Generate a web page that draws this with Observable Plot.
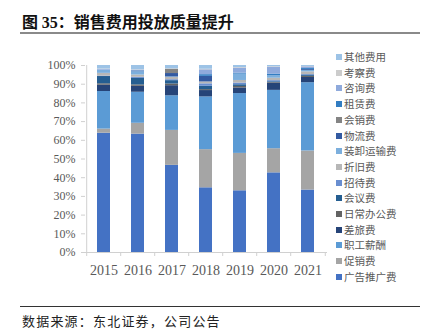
<!DOCTYPE html>
<html>
<head>
<meta charset="utf-8">
<script src="https://cdn.jsdelivr.net/npm/d3@7"></script>
<script src="https://cdn.jsdelivr.net/npm/@observablehq/plot@0.6"></script>
<style>
  html, body { margin: 0; padding: 0; background: #fff; }
  #wrap { position: relative; width: 433px; height: 333px; overflow: hidden; background: #fff; }
  #title { position: absolute; left: 22px; top: 9px; font: bold 16px "Noto Sans CJK SC", sans-serif; color: #111; white-space: nowrap; }
  #title .num { font-family: "Liberation Serif", serif; }
  #topline { position: absolute; left: 20px; top: 32px; width: 400px; height: 2px; background: #8a8a8a; }
  #botline { position: absolute; left: 20px; top: 306px; width: 400px; height: 1px; background: #333; }
  #caption { position: absolute; left: 22px; top: 311px; font: 13px "Noto Sans CJK SC", sans-serif; letter-spacing: 1.2px; color: #222; white-space: nowrap; }
  #chart { position: absolute; left: 0; top: 50px; }
  #legend { position: absolute; left: 336px; top: 50px; }
  .li { position: absolute; left: 0; height: 14px; white-space: nowrap; font: 10.5px "Noto Sans CJK SC", sans-serif; color: #595959; }
  .sw { position: absolute; left: 0; top: 4px; width: 6px; height: 6px; }
  .lt { position: absolute; left: 8px; top: 0; line-height: 14px; }
</style>
</head>
<body>
<div id="wrap">
  <div id="title">图 <span class="num">35</span>：销售费用投放质量提升</div>
  <div id="topline"></div>
  <div id="chart"></div>
  <div id="legend"></div>
  <div id="botline"></div>
  <div id="caption">数据来源：东北证券，公司公告</div>
</div>
<script>
// ---- data (shares in %) ----
const years = ["2015", "2016", "2017", "2018", "2019", "2020", "2021"];
// stacking order, bottom to top
const seriesNames = ["广告推广费","促销费","职工薪酬","差旅费","日常办公费","会议费","招待费","折旧费","装卸运输费","物流费","会销费","租赁费","咨询费","考察费","其他费用"];
const advertising = [63.8, 63.3, 46.6, 34.6, 33.0, 42.6, 33.4];
const promotion   = [2.2, 5.8, 18.7, 20.4, 20.0, 12.9, 20.9];
const staffPay    = [20.1, 16.6, 18.5, 28.2, 32.0, 31.2, 36.5];
const travel      = [3.4, 3.2, 5.4, 3.4, 3.0, 3.9, 2.8];
const office      = [0.7, 0.7, 0.9, 0.5, 0.8, 0.3, 0.6];
const meeting     = [3.9, 3.5, 1.8, 1.8, 0.9, 0.4, 0.7];
const hospitality = [0.2, 0.6, 0.5, 1.3, 0.9, 0.6, 0.3];
const depreciation= [1.5, 1.2, 1.2, 1.0, 1.4, 1.3, 1.4];
const handling    = [1.7, 1.8, 0.3, 0.0, 3.4, 1.3, 0.8];
const logistics   = [0.0, 0.3, 1.8, 3.0, 0.0, 0.0, 0.5];
const salesMeeting= [0.0, 0.0, 2.3, 0.0, 0.0, 0.0, 0.0];
const rent        = [0.0, 0.2, 0.0, 0.9, 0.5, 0.9, 0.5];
const consulting  = [0.4, 0.3, 0.0, 2.6, 2.7, 3.6, 0.9];
const inspection  = [0.2, 0.2, 0.2, 0.3, 0.3, 0.3, 0.2];
const others      = [1.9, 2.3, 1.8, 2.0, 1.1, 0.7, 0.5];
const yTicks = [0, 0.1, 0.2, 0.3, 0.4, 0.5, 0.6, 0.7, 0.8, 0.9, 1.0];

const seriesValues = [advertising, promotion, staffPay, travel, office, meeting, hospitality, depreciation, handling, logistics, salesMeeting, rent, consulting, inspection, others];
const seriesColors = ["#4472C4","#A5A5A5","#5B9BD5","#264478","#636363","#255E91","#698ED0","#B7B7B7","#7CAFDD","#335AA1","#848484","#327DC2","#8FAADC","#CCCCCC","#9DC3E6"];

const rows = [];
seriesNames.forEach((s, i) => years.forEach((yr, j) => rows.push({series: s, year: yr, value: seriesValues[i][j]})));

// ---- chart ----
const W = 335, H = 232, mL = 85, mR = 8, mT = 15, mB = 30;
const step = (W - mL - mR) / years.length;
const axisGray = "#d0d0d0";
const serif = "'Liberation Serif', 'Times New Roman', serif";

const chart = Plot.plot({
  width: W, height: H,
  marginLeft: mL, marginRight: mR, marginTop: mT, marginBottom: mB,
  style: {color: "#595959", background: "transparent", overflow: "visible"},
  x: {domain: years, paddingInner: 0.61, paddingOuter: 0.305, axis: null},
  y: {domain: [0, 1], axis: null},
  color: {domain: seriesNames, range: seriesColors},
  marks: [
    Plot.barY(rows, Plot.stackY({offset: "normalize", x: "year", y: "value", fill: "series"})),
    // axis lines
    Plot.ruleY([0], {stroke: axisGray}),
    Plot.ruleX([years[0]], {y1: 0, y2: 1, dx: -step / 2, stroke: axisGray}),
    // category separator ticks
    Plot.axisX({tickSize: 4, tickFormat: null, dx: -step / 2, stroke: axisGray, label: null}),
    Plot.axisX([years[years.length - 1]], {tickSize: 4, tickFormat: null, dx: step / 2, stroke: axisGray, label: null}),
    // x labels
    Plot.axisX({tickSize: 0, tickPadding: 13, fontSize: 14, fontFamily: serif, fill: "#595959", label: null}),
    // y axis
    Plot.axisY(yTicks, {tickSize: 4, tickPadding: 6, tickFormat: d3.format(".0%"), fontSize: 12, fontFamily: serif, stroke: axisGray, fill: "#595959", label: null})
  ]
});
document.getElementById("chart").appendChild(chart);

// ---- legend (top to bottom = reverse stacking order) ----
const legend = document.getElementById("legend");
const legendNames = seriesNames.slice().reverse();
const legendColors = seriesColors.slice().reverse();
legendNames.forEach((name, k) => {
  const item = document.createElement("div");
  item.className = "li";
  item.style.top = (k * 15.7) + "px";
  const sw = document.createElement("div");
  sw.className = "sw";
  sw.style.background = legendColors[k];
  const t = document.createElement("div");
  t.className = "lt";
  t.textContent = name;
  item.appendChild(sw);
  item.appendChild(t);
  legend.appendChild(item);
});
</script>
</body>
</html>
